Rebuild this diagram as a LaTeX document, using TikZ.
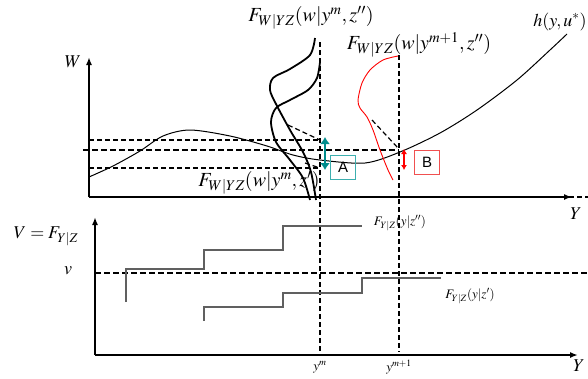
\documentclass[tikz,border=0pt]{standalone}
\usepackage{mathptmx}
\usepackage{fontspec}
\setmainfont{Liberation Serif}
\setsansfont{Liberation Sans}
\usetikzlibrary{arrows.meta}
\definecolor{tealA}{RGB}{0,140,140}
\definecolor{tealBox}{RGB}{60,175,175}
\definecolor{redB}{RGB}{240,80,80}
\begin{document}
\begin{tikzpicture}[x=1pt,y=-1pt,
    ax/.style={line width=1.8pt,-{Latex[length=8pt,width=6pt]}},
    dsh/.style={dash pattern=on 5pt off 3pt,line width=1.2pt},
    dshthk/.style={dash pattern=on 6pt off 3pt,line width=1.8pt},
    cdf/.style={line width=1.8pt},
    stp/.style={gray!75!black,line width=1.1pt},
    lbl/.style={font=\fontsize{18}{21}\selectfont,inner sep=0pt},
    big/.style={font=\fontsize{20}{23}\selectfont,inner sep=0pt},
    sml/.style={font=\fontsize{13}{15}\selectfont,inner sep=0pt},
    bx/.style={draw,line width=1pt,inner sep=0pt,minimum width=25pt,minimum height=24pt,
               font=\sffamily\fontsize{15}{17}\selectfont}
  ]
  \useasboundingbox (0,0) rectangle (588,378);
  % TOP PANEL: axes
  \coordinate (o1) at (89,197);
  \coordinate (w1) at (89,57);
  \coordinate (y1) at (572,197);
  \coordinate (e1) at (588,197);
  \draw[dsh] (o1) -- (e1);
  \draw[ax] (o1) -- (y1);
  \draw[ax] (o1) -- (w1);
  \node[lbl] (W) at (73,62) {$W$};
  \node[lbl] (Yt) at (576,214) {$Y$};
  % vertical dashed lines at y^m and y^{m+1}
  \coordinate (ym-t) at (320,42);
  \coordinate (ym-b) at (320,356);
  \coordinate (yp-t) at (399,55);
  \coordinate (yp-b) at (399,352);
  \draw[dsh] (ym-t) -- (ym-b);
  \draw[dsh] (yp-t) -- (yp-b);
  % horizontal dashed levels
  \draw[dsh] (89,140) -- (320,140);
  \draw[dshthk] (83,150) -- (399,150);
  \draw[dsh] (89,168) -- (320,168);
  % h(y,u*)
  \draw[line width=1pt] plot[smooth] coordinates {(89,177) (113,166) (140,151) (163,136)
    (190,130) (230,136) (267,146) (293,155) (320,160) (365,163) (400,152) (440,133)
    (477,110) (517,80) (550,50) (567,34)};
  \node[lbl] (h) at (560,22) {$h(y,u^{*})$};
  % conditional distributions at y^m
  \draw[cdf] plot[smooth] coordinates {(315,38) (310,55) (290,69) (273,78) (270,90)
    (276,104) (290,130) (303,152) (311,172) (316,200)};
  \draw[cdf] plot[smooth] coordinates {(320,62) (317,78) (308,90) (290,100) (276,108)
    (271,122) (276,142) (290,160) (303,178) (310,200)};
  \draw[dsh] (288,125) -- (320,140);
  \draw[dsh] (305,163) -- (320,168);
  \node[big] (Fz2) at (311,18) {$F_{W|YZ}(w|y^{m},z'')$};
  \node[big] (Fz1) at (259,183) {$F_{W|YZ}(w|y^{m},z')$};
  % conditional distribution at y^{m+1}
  \draw[red,line width=0.9pt] plot[smooth] coordinates {(398,56) (383,60) (370,70) (362,83)
    (358,100) (360,108) (367,117) (373,130) (380,150) (388,170) (393,180)};
  \draw[dsh] (372,120) -- (398,148);
  \node[big] (Fp) at (419,45) {$F_{W|YZ}(w|y^{m+1},z'')$};
  % gaps A and B
  \coordinate (a-t) at (325,137);
  \coordinate (a-b) at (325,170);
  \draw[tealA,line width=2.8pt,{Latex[length=7pt,width=10pt]}-{Latex[length=7pt,width=10pt]}] (a-t) -- (a-b);
  \node[bx,draw=tealBox] (A) at (343,167) {A};
  \coordinate (b-t) at (404,149);
  \coordinate (b-b) at (404,170);
  \draw[red,line width=1.5pt,{Latex[length=5pt,width=6pt]}-{Latex[length=5pt,width=6pt]}] (b-t) -- (b-b);
  \node[bx,draw=redB] (B) at (427,162) {B};
  % BOTTOM PANEL: axes
  \coordinate (o2) at (95,355);
  \coordinate (v2) at (95,217);
  \coordinate (y2) at (578,355);
  \draw[ax] (o2) -- (y2);
  \draw[ax] (o2) -- (v2);
  \node[lbl] (V) at (46,236) {$V=F_{Y|Z}$};
  \node[lbl] (v) at (68,271) {$v$};
  \node[lbl] (Yb) at (579,366) {$Y$};
  \node[sml] (ym) at (320,367) {$y^{m}$};
  \node[sml] (yp) at (399,367) {$y^{m+1}$};
  % level v
  \draw[dshthk] (95,273) -- (588,273);
  % step cdfs of Y given Z
  \draw[stp] (126,302) |- (204,269) |- (283,250) |- (362,226);
  \draw[stp] (204,321) |- (283,307) |- (362,293) |- (441,278);
  \node[sml] (Fy2) at (400,223) {$F_{Y|Z}(y|z'')$};
  \node[sml] (Fy1) at (470,296) {$F_{Y|Z}(y|z')$};
\end{tikzpicture}
\end{document}
